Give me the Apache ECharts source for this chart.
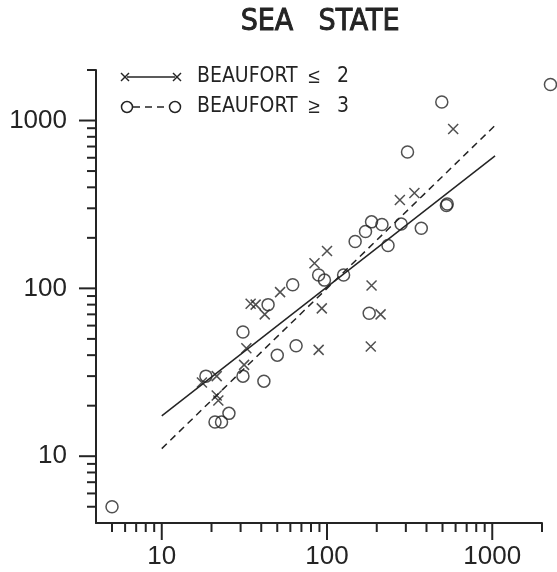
<!DOCTYPE html>
<html>
<head>
<meta charset="utf-8">
<script src="https://cdn.jsdelivr.net/npm/echarts@6/dist/echarts.min.js"></script>
<style>
  html, body { margin: 0; padding: 0; background: #fff; }
  #chart { width: 557px; height: 572px; }
</style>
</head>
<body>
<div id="chart"></div>
<script>
// Beaufort <= 2 observations (crosses)
const calmX = [17.5, 21.5, 21.5, 22, 31.5, 32.5, 34.5, 37, 42, 52, 84, 100, 93, 89, 186, 211, 184, 276, 338, 580];
const calmY = [27.5, 30, 23, 21.5, 35, 44, 81, 80, 70, 95, 141, 167, 76, 43, 104, 70, 45, 336, 370, 890];

// Beaufort >= 3 observations (circles)
const roughX = [5, 18.5, 21, 23, 25.5, 31, 31, 41.5, 50, 65, 44, 62, 89, 96.5, 126, 148, 171, 186, 215, 234, 281, 372, 307, 495, 528, 534, 180, 2250];
const roughY = [5, 30, 16, 16, 18, 55, 30, 28, 40, 45.5, 80, 105, 120, 112, 120, 190, 218, 249, 240, 180, 242, 228, 650, 1290, 312, 318, 71, 1640];

// Fitted lines (end points)
const fitX = [10, 1040];
const calmFitY = [17.4, 615];
const roughFitY = [11.1, 935];

// Axis ranges and ticks
const axisMin = 4;
const axisMax = 2000;
const majorTicks = [10, 100, 1000];
const minorTicks = [5, 6, 7, 8, 9, 20, 30, 40, 50, 60, 70, 80, 90, 200, 300, 400, 500, 600, 700, 800, 900, 2000];

const INK = '#242424';
const NUM_FONT = '"Liberation Sans", Arial, sans-serif';
const TXT_FONT = '"Liberation Sans Narrow", "DejaVu Sans Condensed", "Liberation Sans", sans-serif';
const CROSS = 'path://M0,0L10,10M10,0L0,10';

const pairs = (xs, ys) => xs.map((x, i) => [x, ys[i]]);

const xTickData = majorTicks.map(v => [v, axisMin, 17]).concat(minorTicks.map(v => [v, axisMin, 9]));
const yTickData = majorTicks.map(v => [axisMin, v, 17]).concat(minorTicks.map(v => [axisMin, v, 9]));

function tickRenderer(horizontal) {
  return function (params, api) {
    const p = api.coord([api.value(0), api.value(1)]);
    const len = api.value(2);
    const shape = horizontal
      ? { x1: p[0], y1: p[1], x2: p[0], y2: p[1] + len }
      : { x1: p[0], y1: p[1], x2: p[0] - len, y2: p[1] };
    return { type: 'line', shape: shape, style: { stroke: INK, lineWidth: 2 } };
  };
}

const decadeLabel = v => {
  const r = Math.round(v);
  return majorTicks.indexOf(r) >= 0 ? String(r) : '';
};

function label(text, x, y, size, align, opts) {
  return {
    type: 'text', x: x, y: y,
    style: Object.assign({
      text: text, fill: INK, fontSize: size, fontFamily: TXT_FONT,
      textAlign: align, textVerticalAlign: 'middle', align: align, verticalAlign: 'middle'
    }, opts || {})
  };
}

const chart = echarts.init(document.getElementById('chart'), null, { renderer: 'canvas' });

chart.setOption({
  backgroundColor: '#fff',
  animation: false,
  grid: { left: 96, right: 15, top: 70, bottom: 49, containLabel: false },
  xAxis: {
    type: 'log', logBase: 10, min: axisMin, max: axisMax,
    axisLine: { show: true, lineStyle: { color: INK, width: 2 } },
    axisTick: { show: false },
    splitLine: { show: false },
    axisLabel: {
      margin: 21, color: INK, fontSize: 26, fontFamily: NUM_FONT,
      showMinLabel: false, showMaxLabel: false, formatter: decadeLabel
    }
  },
  yAxis: {
    type: 'log', logBase: 10, min: axisMin, max: axisMax,
    axisLine: { show: true, lineStyle: { color: INK, width: 2 } },
    axisTick: { show: false },
    splitLine: { show: false },
    axisLabel: {
      margin: 29, color: INK, fontSize: 26, fontFamily: NUM_FONT,
      padding: [0, 0, 4, 0],
      showMinLabel: false, showMaxLabel: false, formatter: decadeLabel
    }
  },
  series: [
    {
      type: 'custom', name: 'xticks', silent: true, clip: false,
      data: xTickData, encode: { x: 0, y: 1 },
      renderItem: tickRenderer(true)
    },
    {
      type: 'custom', name: 'yticks', silent: true, clip: false,
      data: yTickData, encode: { x: 0, y: 1 },
      renderItem: tickRenderer(false)
    },
    {
      type: 'line', name: 'calm fit', data: pairs(fitX, calmFitY),
      symbol: 'none', silent: true, clip: false,
      lineStyle: { color: INK, width: 1.5, type: 'solid' }
    },
    {
      type: 'line', name: 'rough fit', data: pairs(fitX, roughFitY),
      symbol: 'none', silent: true, clip: false,
      lineStyle: { color: INK, width: 1.5, type: [7, 5] }
    },
    {
      type: 'scatter', name: 'BEAUFORT ≤ 2', data: pairs(calmX, calmY),
      symbol: CROSS, symbolSize: 10, clip: false,
      itemStyle: { color: 'rgba(0,0,0,0)', borderColor: INK, borderWidth: 1.5 }
    },
    {
      type: 'scatter', name: 'BEAUFORT ≥ 3', data: pairs(roughX, roughY),
      symbol: 'circle', symbolSize: 12, clip: false,
      itemStyle: { color: 'rgba(0,0,0,0)', borderColor: INK, borderWidth: 1.5 }
    }
  ],
  graphic: [
    // title, drawn as two words with a wide gap
    label('SEA', 267, 22, 30, 'center', { stroke: INK, lineWidth: 0.9 }),
    label('STATE', 359, 22, 30, 'center', { stroke: INK, lineWidth: 0.9 }),
    // legend row 1: cross - solid - cross
    { type: 'line', shape: { x1: 121, y1: 73, x2: 129, y2: 81 }, style: { stroke: INK, lineWidth: 1.5 } },
    { type: 'line', shape: { x1: 129, y1: 73, x2: 121, y2: 81 }, style: { stroke: INK, lineWidth: 1.5 } },
    { type: 'line', shape: { x1: 127, y1: 77, x2: 175, y2: 77 }, style: { stroke: INK, lineWidth: 1.5 } },
    { type: 'line', shape: { x1: 173, y1: 73, x2: 181, y2: 81 }, style: { stroke: INK, lineWidth: 1.5 } },
    { type: 'line', shape: { x1: 181, y1: 73, x2: 173, y2: 81 }, style: { stroke: INK, lineWidth: 1.5 } },
    label('BEAUFORT', 197, 77, 21, 'left'),
    label('≤', 314, 77, 21, 'center', { fontFamily: NUM_FONT }),
    label('2', 343, 77, 21, 'center'),
    // legend row 2: circle - dashed - circle
    { type: 'circle', shape: { cx: 127, cy: 107, r: 5.5 }, style: { fill: 'none', stroke: INK, lineWidth: 1.5 } },
    { type: 'line', shape: { x1: 133, y1: 107, x2: 169, y2: 107 }, style: { stroke: INK, lineWidth: 1.5, lineDash: [7, 5] } },
    { type: 'circle', shape: { cx: 175, cy: 107, r: 5.5 }, style: { fill: 'none', stroke: INK, lineWidth: 1.5 } },
    label('BEAUFORT', 197, 107, 21, 'left'),
    label('≥', 314, 107, 21, 'center', { fontFamily: NUM_FONT }),
    label('3', 343, 107, 21, 'center')
  ]
});
</script>
</body>
</html>
